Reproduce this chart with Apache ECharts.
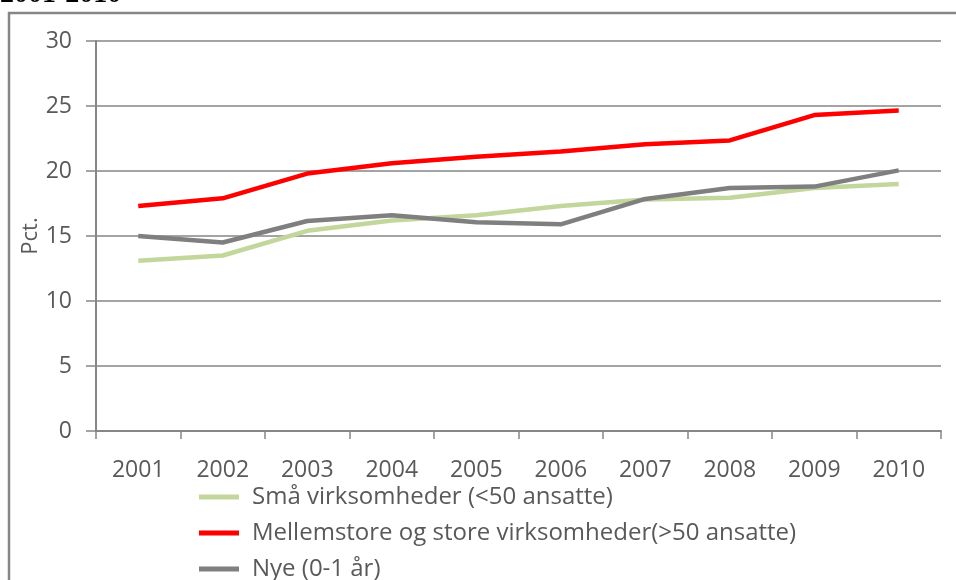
<!DOCTYPE html>
<html>
<head>
<meta charset="utf-8">
<script src="https://cdn.jsdelivr.net/npm/echarts@6/dist/echarts.min.js"></script>
<style>html,body{margin:0;padding:0;background:#fff;}#c{width:956px;height:580px;}</style>
</head>
<body>
<div id="c"></div>
<script>
const years = ['2001','2002','2003','2004','2005','2006','2007','2008','2009','2010'];
const smaa = [13.1, 13.5, 15.4, 16.2, 16.6, 17.3, 17.8, 17.95, 18.7, 19.0];
const store = [17.3, 17.9, 19.8, 20.6, 21.1, 21.5, 22.05, 22.35, 24.3, 24.65];
const nye = [15.0, 14.5, 16.15, 16.6, 16.05, 15.9, 17.85, 18.7, 18.8, 20.05];
const seriesNames = ['Små virksomheder (<50 ansatte)', 'Mellemstore og store virksomheder(>50 ansatte)', 'Nye (0-1 år)'];
const seriesColors = ['#c3d69b', '#ff0000', '#7f7f7f'];
const yTicks = [0, 5, 10, 15, 20, 25, 30];

const FONT = '"Open Sans", "Noto Sans", sans-serif';
const legendTops = [480, 516, 552];
const chart = echarts.init(document.getElementById('c'), null, {renderer: 'canvas'});
chart.setOption({
  animation: false,
  backgroundColor: '#fff',
  grid: {left: 96, right: 15, top: 41, bottom: 149, containLabel: false},
  graphic: [
    {type: 'line', shape: {x1: 8, y1: 13, x2: 960, y2: 13}, style: {stroke: '#868686', lineWidth: 2.5}, z: -1},
    {type: 'line', shape: {x1: 9, y1: 12, x2: 9, y2: 590}, style: {stroke: '#868686', lineWidth: 2.5}, z: -1},
    {type: 'text', x: 0, y: -19, style: {text: '2001-2010', font: 'bold 28px "Liberation Serif", serif', fill: '#000'}}
  ],
  legend: seriesNames.map((n, i) => ({
    orient: 'vertical', left: 194, top: legendTops[i],
    itemWidth: 40, itemHeight: 5, icon: 'rect',
    textStyle: {fontFamily: FONT, fontSize: 24, color: '#595959', padding: [0, 0, 0, 8]},
    data: [n]
  })),
  xAxis: {
    type: 'category', data: years, boundaryGap: true,
    axisLine: {lineStyle: {color: '#868686', width: 2}},
    axisTick: {show: true, length: 8, alignWithLabel: false, lineStyle: {color: '#868686', width: 1.5}},
    axisLabel: {margin: 28, fontFamily: FONT, fontSize: 23, color: '#595959'},
    splitLine: {show: false}
  },
  yAxis: {
    type: 'value', min: yTicks[0], max: yTicks[yTicks.length - 1], interval: 5,
    name: 'Pct.', nameLocation: 'middle', nameGap: 54, nameRotate: 90, nameMoveOverlap: false,
    nameTextStyle: {fontFamily: FONT, fontSize: 22, color: '#595959'},
    axisLine: {show: true, lineStyle: {color: '#868686', width: 2}},
    axisTick: {show: true, length: 10, lineStyle: {color: '#868686', width: 1.5}},
    axisLabel: {margin: 24, fontFamily: FONT, fontSize: 23, color: '#595959'},
    splitLine: {show: true, lineStyle: {color: '#868686', width: 1.5}}
  },
  series: seriesNames.map((n, i) => ({
    name: n, type: 'line', data: [smaa, store, nye][i], symbol: 'none',
    lineStyle: {color: seriesColors[i], width: 4.5}, itemStyle: {color: seriesColors[i]}, z: 2 + i
  }))
});
</script>
</body>
</html>
